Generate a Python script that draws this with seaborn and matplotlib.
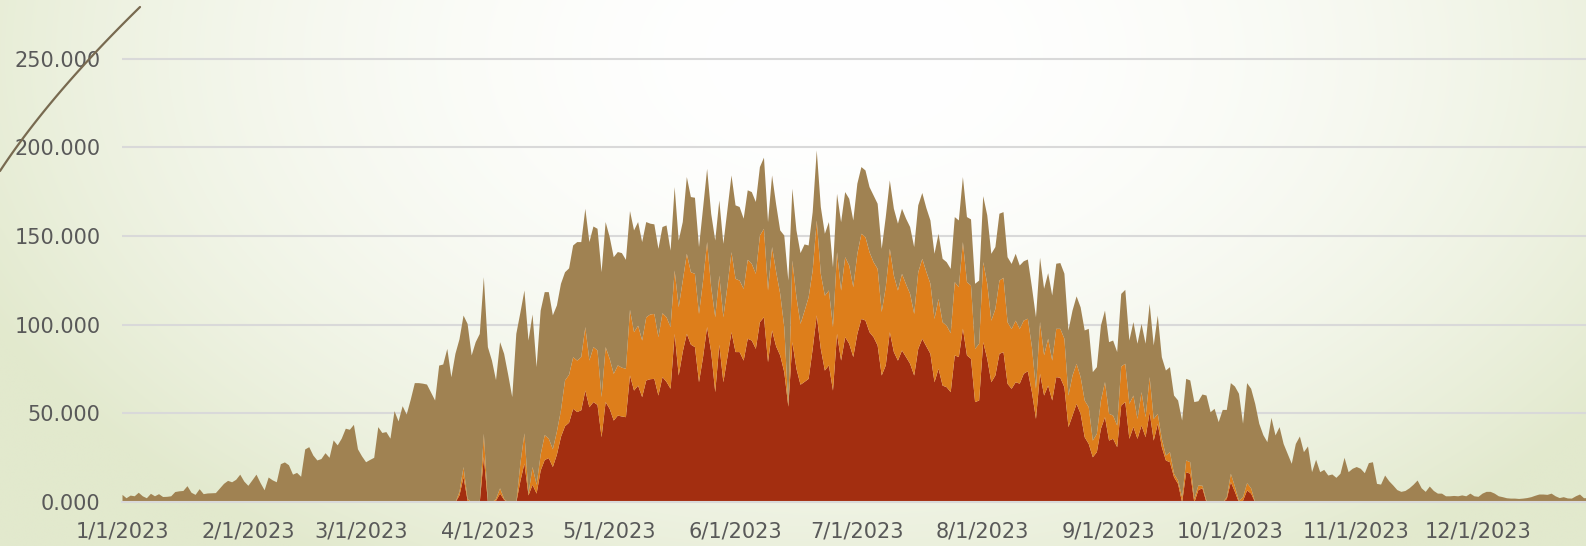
import numpy as np
import pandas as pd
import matplotlib
matplotlib.use("Agg")
import matplotlib.pyplot as plt
import matplotlib.dates as mdates
from matplotlib.lines import Line2D
import seaborn as sns

# daily totals (thousands), 1 Jan 2023 onwards
start_date = "2023-01-01"
total_k = [
    4.3, 2.4, 3.9, 3.5, 5.5, 3.5, 2.4, 4.9, 3.5, 4.7,
    3.1, 3.2, 3.5, 5.9, 6.3, 6.5, 9.2, 5.5, 4.3, 7.5,
    4.7, 5.1, 5.2, 5.3, 7.9, 10.5, 12.2, 11.4, 12.8, 15.7,
    11.8, 9.4, 12.5, 15.7, 11.0, 6.9, 14.1, 12.5, 11.4, 21.6,
    22.6, 21.0, 15.7, 16.7, 14.5, 29.9, 31.2, 26.5, 23.7, 24.5,
    27.8, 25.2, 35.0, 32.2, 36.0, 41.6, 41.0, 43.8, 30.0, 26.0,
    22.7, 24.0, 25.2, 42.5, 39.2, 39.7, 36.0, 51.5, 45.7, 54.3,
    49.6, 58.0, 67.3, 67.3, 67.0, 66.5, 62.0, 57.5, 77.2, 77.8,
    86.6, 70.6, 83.8, 92.0, 105.4, 100.7, 82.9, 90.4, 95.0, 127.0,
    87.6, 80.0, 69.0, 90.4, 83.8, 72.0, 59.4, 95.1, 107.0, 119.5,
    91.3, 106.0, 76.3, 108.2, 118.6, 118.6, 105.5, 111.1, 123.3, 129.8,
    132.0, 144.9, 146.8, 146.8, 165.6, 146.8, 155.6, 154.3, 129.8, 158.1,
    149.6, 138.3, 141.2, 140.6, 136.8, 164.3, 153.4, 158.1, 146.8, 158.1,
    157.2, 156.8, 143.0, 155.3, 156.2, 142.0, 177.8, 147.7, 158.1, 183.5,
    172.2, 171.8, 144.0, 166.0, 188.1, 162.8, 147.7, 170.3, 145.8, 165.0,
    184.4, 167.5, 166.6, 160.0, 176.0, 175.0, 169.4, 189.1, 194.4, 158.1,
    184.4, 168.0, 153.4, 150.5, 125.1, 176.9, 153.4, 140.6, 145.5, 144.9,
    163.7, 198.5, 166.6, 151.5, 158.1, 132.6, 174.0, 158.0, 175.0, 171.2,
    159.0, 179.7, 189.1, 187.2, 177.8, 173.1, 168.4, 143.0, 160.9, 181.6,
    165.6, 157.2, 165.6, 160.0, 155.3, 144.0, 167.5, 174.5, 166.0, 159.0,
    140.2, 151.5, 137.4, 135.5, 131.7, 160.9, 159.0, 183.5, 160.9, 159.6,
    123.3, 125.1, 172.7, 161.9, 140.2, 144.0, 162.8, 163.7, 138.3, 134.5,
    140.2, 133.6, 136.0, 137.0, 121.4, 104.4, 138.0, 120.5, 129.3, 116.7,
    134.6, 135.0, 129.0, 97.0, 108.2, 116.2, 110.0, 97.0, 97.9, 73.5,
    76.3, 99.8, 108.2, 90.4, 91.3, 84.8, 117.6, 119.9, 91.3, 101.7,
    89.5, 100.7, 89.5, 112.0, 88.5, 105.4, 81.9, 74.4, 76.3, 60.3,
    57.5, 46.2, 69.7, 68.8, 56.6, 57.1, 60.9, 60.3, 50.9, 52.8,
    45.3, 52.2, 52.2, 67.3, 65.4, 61.3, 44.4, 67.3, 64.1, 55.6,
    44.4, 38.0, 34.0, 47.7, 37.8, 42.5, 33.0, 27.4, 21.8, 33.0,
    37.2, 28.4, 31.6, 17.1, 24.1, 17.1, 18.4, 15.2, 15.8, 13.9,
    16.2, 25.2, 17.1, 19.0, 20.0, 19.0, 16.5, 22.2, 22.7, 10.5,
    10.1, 15.2, 12.0, 9.6, 7.0, 6.0, 6.5, 8.0, 10.0, 12.4,
    8.0, 6.0, 9.0, 6.5, 5.0, 5.0, 3.5, 3.5, 3.7, 3.5,
    4.0, 3.5, 5.0, 3.5, 3.2, 5.0, 6.0, 6.0, 5.0, 3.5,
    3.0, 2.4, 2.2, 2.2, 2.0, 2.2, 2.5, 3.0, 3.8, 4.5,
    4.5, 4.3, 5.0, 3.5, 2.5, 3.0, 2.3, 2.2, 3.5, 4.5,
    2.4, 2.5, 3.0, 2.6, 2.8,
]

# red and orange layers only exist from late March to early October
warm_start = "2023-03-24"
orange_top_k = [
    0, 6, 20, 2, 0, 0, 0, 38.8, 0, 0,
    2, 8, 2, 0, 0, 0, 22, 39, 5, 20,
    10, 27, 38, 36, 30, 40, 52, 68.8, 72, 81.9,
    80, 82, 98.9, 80, 87.6, 85.7, 59.4, 87.6, 81, 72.5,
    77.3, 76, 75.4, 108.6, 96, 99.7, 91.3, 104.4, 106, 106.3,
    93.2, 106.7, 104.4, 98.9, 130.8, 110.1, 125, 140.2, 129.8, 128.9,
    106.3, 125, 146.8, 121.4, 104.4, 127.9, 104.4, 122, 141.1, 126.1,
    125.1, 120.4, 136.8, 134.5, 128.9, 150.5, 154.3, 119.5, 144, 130,
    117.6, 98.9, 55, 136.4, 115.7, 100.7, 108, 115.7, 130.8, 159,
    128.9, 116.6, 119.5, 98.9, 141.1, 119.5, 138.3, 133.6, 121.4, 140.2,
    151.5, 149.6, 141.1, 135.5, 131.7, 107.4, 121.4, 143, 127.9, 119.5,
    128.9, 123, 117.6, 106.3, 129.8, 137.4, 130, 123.3, 103.5, 114.8,
    101.6, 99.7, 95.4, 124.2, 121.4, 146.8, 124.2, 122.3, 86.6, 89.5,
    135.5, 123.3, 102.5, 109.1, 125.1, 126.7, 101.6, 97.8, 102.5, 97.9,
    102.6, 103.6, 87.6, 64.1, 101.7, 83, 92.3, 80, 97.9, 97.9,
    92.3, 60.3, 71.6, 78.2, 70.7, 57.5, 53.7, 34.9, 38.7, 57.5,
    67.9, 50, 49, 43.4, 76.7, 78.2, 55.6, 60.3, 47.1, 62.2,
    48.1, 70.7, 47.1, 50, 35.9, 26.5, 28.4, 16.2, 12.4, 3,
    23.7, 22.7, 2, 9.6, 9.5, 1, 0, 0, 0, 0,
    3, 16.2, 9, 1, 3, 10.9, 8, 0,
]
red_k = [
    0, 4, 14.3, 1, 0, 0, 0, 25.6, 0, 0,
    1, 5, 1.5, 0, 0, 0, 12, 22, 4, 10,
    5, 18, 24, 25, 20, 27, 37, 43, 45, 52.8,
    51, 52, 63.1, 53.7, 56.6, 55, 36.8, 56.6, 52.8, 46.2,
    49, 48.5, 48.1, 71.6, 63.1, 65.9, 59.4, 68.8, 69.5, 69.7,
    60.3, 70.7, 68, 64.1, 95.1, 71.6, 85, 95.1, 89, 87.6,
    67.8, 82, 98.9, 84.8, 62.2, 88.9, 67.8, 82, 96, 84.8,
    84.8, 80, 92.3, 91.3, 86.6, 101.7, 104.4, 79.1, 97, 88,
    82.9, 73.5, 54, 90.4, 75.4, 66.4, 68, 69.7, 86.6, 105.5,
    86.6, 74.4, 77.3, 63.1, 95.1, 80, 93.2, 89.5, 82, 95.1,
    103.5, 102.6, 96, 93.2, 88.5, 71.6, 77.3, 96, 84.8, 80,
    85.7, 82, 78.2, 71.6, 86.6, 92.3, 88, 83.8, 67.8, 75.4,
    65.9, 65, 62.2, 82.9, 82, 98, 82.9, 81, 56.6, 57.5,
    90.4, 81, 67.8, 71.6, 83.8, 84.8, 66.9, 64.1, 67.8, 67,
    72.6, 74, 62.2, 47.1, 72.6, 60.3, 65.9, 57.5, 70.7, 70.3,
    65, 42.5, 49, 55.6, 50, 36.8, 33, 25.5, 28.4, 41.6,
    48.1, 34.9, 35.9, 31.2, 54.7, 56.6, 35.9, 42.5, 35.9, 43.4,
    36.8, 50.9, 34.9, 44.4, 31.2, 23.7, 22.7, 14.3, 10.5, 0,
    17.1, 16.2, 0, 7, 8, 0, 0, 0, 0, 0,
    2, 11.5, 6, 0, 1, 6.8, 5, 0,
]

y_ticks = [0, 50, 100, 150, 200, 250]
y_labels = ["0.000", "50.000", "100.000", "150.000", "200.000", "250.000"]
layer_colors = ["#A32E10", "#DD7E1B", "#A08252"]

W, H, DPI = 1586, 546, 100

sns.set_theme(style="white")
plt.rcParams["font.family"] = ["DejaVu Sans"]

days = pd.DataFrame({"date": pd.date_range(start_date, periods=len(total_k), freq="D"),
                     "total": total_k})
warm = pd.DataFrame({"date": pd.date_range(warm_start, periods=len(red_k), freq="D"),
                     "red": red_k, "orange_top": orange_top_k})
df = days.merge(warm, on="date", how="left").fillna(0)
df["orange"] = df["orange_top"] - df["red"]
df["brown"] = df["total"] - df["orange_top"]

fig = plt.figure(figsize=(W / DPI, H / DPI), dpi=DPI)

# soft radial background, white centre fading to pale olive at the edges
bg = fig.add_axes([0, 0, 1, 1], zorder=-10)
yy, xx = np.mgrid[0:1:300j, 0:1:870j]
d = np.sqrt(((xx - 0.53) / 0.6) ** 2 + ((yy - 0.1) / 1.1) ** 2)
t = (np.clip(d, 0, 1) ** 2)[..., None]
edge = np.array([226, 233, 205]) / 255.0
bg.imshow((1 - t) + edge * t, aspect="auto", extent=[0, 1, 0, 1],
          interpolation="bilinear")
bg.axis("off")

# decorative stroke in the top-left corner
p0, p1, p2 = np.array([0, 171]), np.array([50, 95]), np.array([140, 7])
s = np.linspace(0, 1, 60)[:, None]
curve = (1 - s) ** 2 * p0 + 2 * (1 - s) * s * p1 + s ** 2 * p2
fig.add_artist(Line2D(curve[:, 0] / W, 1 - curve[:, 1] / H, transform=fig.transFigure,
                      color="#786A50", lw=1.6))

left, bottom = 122 / W, 1 - 502 / H
ax = fig.add_axes([left, bottom, 1 - left, 1 - bottom])
ax.set_facecolor("none")

ax.stackplot(df["date"], df["red"], df["orange"], df["brown"],
             colors=layer_colors, linewidth=0, zorder=3)

x0 = df["date"].iloc[0]
ax.set_xlim(x0, x0 + pd.Timedelta(days=360.6))
ax.set_ylim(0, 283.0)

ax.set_yticks(y_ticks)
ax.set_yticklabels(y_labels)
ax.yaxis.grid(True, color="#D9D9D9", lw=1.5, zorder=0)
ax.xaxis.grid(False)
ax.set_axisbelow(True)

ax.xaxis.set_major_locator(mdates.MonthLocator())
ax.xaxis.set_major_formatter(plt.FuncFormatter(
    lambda v, _: (lambda dt: f"{dt.month}/{dt.day}/{dt.year}")(mdates.num2date(v))))

for side in ["top", "right", "left"]:
    ax.spines[side].set_visible(False)
ax.spines["bottom"].set_color("#D9D9D9")
ax.spines["bottom"].set_linewidth(1.5)
ax.spines["bottom"].set_zorder(4)

ax.tick_params(axis="y", length=0, pad=15.5, labelsize=15, labelcolor="#595959")
ax.tick_params(axis="x", length=5.5, width=1.5, color="#D9D9D9", direction="out",
               pad=8.5, labelsize=15, labelcolor="#595959")
ax.set_xlabel("")
ax.set_ylabel("")

fig.savefig("out.png", dpi=DPI)
